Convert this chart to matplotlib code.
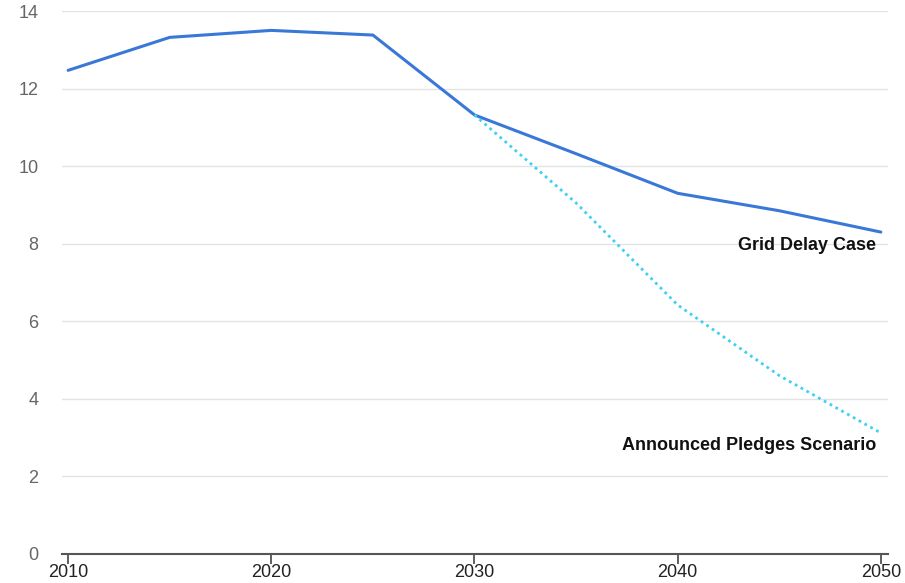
import matplotlib
matplotlib.use('Agg')
import matplotlib.pyplot as plt

years = [2010, 2015, 2020, 2025, 2030, 2035, 2040, 2045, 2050]
grid_delay = [12.47, 13.32, 13.5, 13.38, 11.32, 10.32, 9.3, 8.85, 8.3]
aps_years = [2030, 2035, 2040, 2045, 2050]
aps = [11.32, 9.05, 6.42, 4.6, 3.12]
xticks = [2010, 2020, 2030, 2040, 2050]
yticks = [0, 2, 4, 6, 8, 10, 12, 14]

plt.rcParams['font.family'] = ['Liberation Sans', 'DejaVu Sans']

fig = plt.figure(figsize=(9.05, 5.83), dpi=100)
ax = fig.add_axes([62 / 905, 1 - 554 / 583, (888 - 62) / 905, (554 - 11) / 583])

ax.plot(years, grid_delay, color='#3a78d8', lw=2.2, solid_capstyle='round')
ax.plot(aps_years, aps, color='#3fd0f5', lw=2.0, linestyle=(0, (1, 1.4)))

ax.set_xlim(2009.7, 2050.35)
ax.set_ylim(0, 14)
ax.set_yticks(yticks)
ax.set_xticks(xticks)
ax.grid(axis='y', color='#e3e3e3', lw=1)
ax.set_axisbelow(True)

for s in ['top', 'right', 'left']:
    ax.spines[s].set_visible(False)
ax.spines['bottom'].set_color('#555555')
ax.spines['bottom'].set_linewidth(1.5)

ax.tick_params(axis='y', length=0, pad=17, labelsize=13, labelcolor='#666666')
ax.tick_params(axis='x', length=7, width=1.2, color='#444444', pad=0, labelsize=13, labelcolor='#222222')

ax.text(2049.75, 7.95, 'Grid Delay Case', ha='right', va='center', fontsize=13, fontweight='bold', color='#111111')
ax.text(2049.75, 2.8, 'Announced Pledges Scenario', ha='right', va='center', fontsize=13, fontweight='bold', color='#111111')

fig.savefig('out.png', dpi=100)
